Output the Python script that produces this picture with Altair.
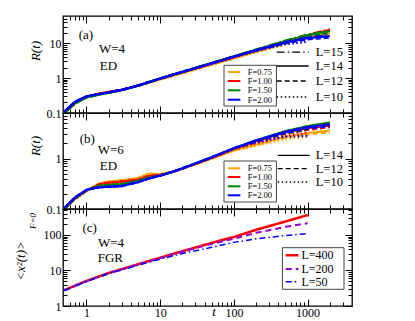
import altair as alt
import pandas as pd

# ---------------- data ----------------
F_LABELS = ["F=0.75", "F=1.00", "F=1.50", "F=2.00"]
F_COLORS = ["#FFA500", "#FF0000", "#008000", "#0000FF"]

T_TAIL = [200, 500, 1000, 2000]

# panel (a)  W=4, ED
L_A = ["L=15", "L=14", "L=12", "L=10"]
T_A = [0.5, 0.7, 1, 1.5, 2, 3, 5, 7, 10, 20, 50, 100]
A_075 = [0.10, 0.19, 0.29, 0.36, 0.40, 0.46, 0.60, 0.74, 0.92, 1.40, 2.45, 3.7]
A_100 = [0.10, 0.19, 0.29, 0.36, 0.40, 0.46, 0.61, 0.76, 0.96, 1.48, 2.60, 4.0]
A_150 = [0.10, 0.19, 0.28, 0.34, 0.38, 0.45, 0.61, 0.77, 0.98, 1.52, 2.70, 4.2]
A_200 = [0.11, 0.21, 0.30, 0.35, 0.39, 0.46, 0.61, 0.76, 0.97, 1.50, 2.65, 4.1]
A_075_TAILS = [[5.8, 10.3, 15.0, 20.0], [5.7, 10.0, 14.5, 19.0], [5.6, 9.6, 13.5, 17.5], [5.5, 9.2, 12.5]]
A_100_TAILS = [[6.3, 11.5, 17.5, 25.0], [6.2, 11.2, 17.0, 24.0], [6.1, 10.8, 15.5, 21.0], [6.0, 10.2, 14.0]]
A_150_TAILS = [[6.6, 11.8, 17.5, 23.0], [6.5, 11.5, 17.0, 22.0], [6.4, 11.0, 15.5, 20.0], [6.2, 10.4, 14.0]]
A_200_TAILS = [[6.4, 10.8, 14.5, 17.0], [6.3, 10.5, 14.0, 16.0], [6.2, 10.0, 12.8, 14.5], [6.0, 9.3, 11.0]]

# panel (b)  W=6, ED
L_B = ["L=14", "L=12", "L=10"]
T_B = [0.5, 0.7, 1, 1.5, 2, 3, 5, 7, 10, 15, 20, 50, 100]
B_075 = [0.10, 0.16, 0.23, 0.32, 0.35, 0.37, 0.41, 0.50, 0.49, 0.55, 0.63, 1.00, 1.45]
B_100 = [0.10, 0.16, 0.23, 0.31, 0.33, 0.35, 0.38, 0.45, 0.47, 0.55, 0.63, 1.03, 1.55]
B_150 = [0.10, 0.165, 0.235, 0.29, 0.30, 0.31, 0.36, 0.42, 0.46, 0.55, 0.64, 1.06, 1.60]
B_200 = [0.105, 0.17, 0.24, 0.27, 0.275, 0.285, 0.34, 0.40, 0.46, 0.55, 0.64, 1.06, 1.60]
B_075_TAILS = [[1.9, 2.7, 3.2, 3.6], [1.85, 2.6, 3.0, 3.3], [1.8, 2.4, 2.7]]
B_100_TAILS = [[2.2, 3.3, 4.0, 4.5], [2.1, 3.1, 3.7, 4.2], [2.0, 2.8, 3.2]]
B_150_TAILS = [[2.3, 3.5, 4.4, 5.2], [2.2, 3.3, 4.1, 4.8], [2.2, 3.1, 3.7]]
B_200_TAILS = [[2.3, 3.4, 4.2, 4.8], [2.2, 3.2, 3.9, 4.4], [2.1, 2.7, 2.8]]

# panel (c)  W=4, FGR
L_C = ["L=400", "L=200", "L=50"]
C_COLORS = ["#FF0000", "#9400D3", "#0000FF"]
T_C = [0.5, 1, 2, 5, 10, 20, 50, 100, 200, 500, 1000]
C_400 = [2.8, 5.1, 8.5, 15.0, 23.0, 35.0, 60.0, 88.0, 140.0, 240.0, 365.0]
C_200 = [2.8, 5.0, 8.4, 14.8, 22.5, 34.0, 56.0, 79.0, 115.0, 170.0, 214.0]
C_50 = [2.7, 4.9, 8.2, 14.0, 21.0, 30.0, 45.0, 62.0, 78.0, 97.0, 109.0]

X_MAJOR = [1, 10, 100, 1000]
X_MINOR = [0.6, 0.7, 0.8, 0.9, 2, 3, 4, 5, 6, 7, 8, 9, 20, 30, 40, 50, 60, 70, 80, 90,
           200, 300, 400, 500, 600, 700, 800, 900, 2000, 3000]

# ---------------- styling ----------------
FONT = "Liberation Serif"
XDOM = [0.48, 4000]
W = 289
DASH = {"L=15": [8, 3, 1.5, 3], "L=14": [1, 0], "L=12": [5, 3], "L=10": [1.5, 2.5],
        "L=400": [1, 0], "L=200": [6, 4], "L=50": [6, 3, 1.5, 3]}


def build_df(T, cores, tails, Ls):
    rows = []
    for f, core, tset in zip(F_LABELS, cores, tails):
        for L, tail in zip(Ls, tset):
            ts = T + T_TAIL[:len(tail)]
            vs = core + tail
            for t, v in zip(ts, vs):
                rows.append({"t": t, "R": v, "F": f, "L": L, "key": f + L})
    return pd.DataFrame(rows)


def label_axis(orient, values, show=True):
    return alt.Axis(orient=orient, values=values, format="~g", ticks=False, domain=False,
                    grid=False, labels=show, labelFont=FONT, labelFontSize=12,
                    labelColor="black", labelPadding=2 if orient == "left" else 1,
                    labelFlush=False, labelOverlap=False, title=None, minExtent=0)


def tick_axis(orient, values, size):
    return alt.Axis(orient=orient, values=values, labels=False, domain=False, grid=False,
                    ticks=True, tickSize=size, offset=-size, tickColor="black",
                    tickWidth=1, title=None, minExtent=0, maxExtent=0)


def axis_layers(df, xs, ys, ymaj, ymin):
    out = []
    for ox, oy, xv, yv, s in [("bottom", "left", X_MAJOR, ymaj, 7),
                              ("bottom", "left", X_MINOR, ymin, 4),
                              ("top", "right", X_MAJOR, ymaj, 7),
                              ("top", "right", X_MINOR, ymin, 4)]:
        out.append(alt.Chart(df).mark_point(opacity=0, size=1).encode(
            x=alt.X("t:Q", scale=xs, axis=tick_axis(ox, xv, s)),
            y=alt.Y("R:Q", scale=ys, axis=tick_axis(oy, yv, s))))
    return out


def texts(items, size=13, style="normal", angle=0, align="left"):
    out = []
    for txt, x, y in items:
        out.append(alt.Chart(pd.DataFrame({"s": [txt]})).mark_text(
            font=FONT, fontSize=size, fontStyle=style, angle=angle, align=align,
            baseline="middle", color="black").encode(
            x=alt.value(x), y=alt.value(y), text="s:N"))
    return out


def f_legend(cscale, x1, x2, y1, y2, rows_y, lx1, lx2, tx):
    box = alt.Chart(pd.DataFrame({"a": [0]})).mark_rect(
        fill="white", stroke="#444444", strokeWidth=1).encode(
        x=alt.value(x1), x2=alt.value(x2), y=alt.value(y1), y2=alt.value(y2))
    d = pd.DataFrame({"F": F_LABELS, "py": rows_y})
    rule = alt.Chart(d).mark_rule(strokeWidth=2).encode(
        x=alt.value(lx1), x2=alt.value(lx2), y=alt.Y("py:Q", scale=None, axis=None),
        color=alt.Color("F:N", scale=cscale, legend=None))
    txt = alt.Chart(d).mark_text(font=FONT, fontSize=8.5, align="left", baseline="middle",
                                 color="black").encode(
        x=alt.value(tx), y=alt.Y("py:Q", scale=None, axis=None), text="F:N")
    return [box, rule, txt]


def l_legend(Ls, dscale, rows_y, lx1, lx2, tx):
    d = pd.DataFrame({"L": Ls, "py": rows_y})
    rule = alt.Chart(d).mark_rule(strokeWidth=1.3, color="black").encode(
        x=alt.value(lx1), x2=alt.value(lx2), y=alt.Y("py:Q", scale=None, axis=None),
        strokeDash=alt.StrokeDash("L:N", scale=dscale, legend=None))
    txt = alt.Chart(d).mark_text(font=FONT, fontSize=12.5, align="left", baseline="middle",
                                 color="black").encode(
        x=alt.value(tx), y=alt.Y("py:Q", scale=None, axis=None), text="L:N")
    return [rule, txt]


def ed_panel(df, Ls, ydom, ylab, ymaj, ymin, h, ann, leg_f, leg_l):
    xs = alt.Scale(type="log", domain=XDOM, nice=False)
    ys = alt.Scale(type="log", domain=ydom, nice=False)
    cscale = alt.Scale(domain=F_LABELS, range=F_COLORS)
    dscale = alt.Scale(domain=Ls, range=[DASH[l] for l in Ls])
    lines = alt.Chart(df).mark_line(strokeWidth=2.2, clip=True).encode(
        x=alt.X("t:Q", scale=xs, axis=None),
        y=alt.Y("R:Q", scale=ys, axis=label_axis("left", ylab)),
        color=alt.Color("F:N", scale=cscale, legend=None),
        strokeDash=alt.StrokeDash("L:N", scale=dscale, legend=None),
        detail="key:N")
    layers = [lines] + axis_layers(df, xs, ys, ymaj, ymin)
    layers += f_legend(cscale, *leg_f)
    layers += l_legend(Ls, dscale, *leg_l)
    layers += ann
    return alt.layer(*layers).resolve_axis(x="independent", y="independent").properties(
        width=W, height=h)


df_a = build_df(T_A, [A_075, A_100, A_150, A_200],
                [A_075_TAILS, A_100_TAILS, A_150_TAILS, A_200_TAILS], L_A)
df_b = build_df(T_B, [B_075, B_100, B_150, B_200],
                [B_075_TAILS, B_100_TAILS, B_150_TAILS, B_200_TAILS], L_B)

Y_MIN_A = [0.2, 0.3, 0.4, 0.5, 0.6, 0.7, 0.8, 0.9, 2, 3, 4, 5, 6, 7, 8, 9, 20, 30, 40, 50]
Y_MIN_B = [0.2, 0.3, 0.4, 0.5, 0.6, 0.7, 0.8, 0.9, 2, 3, 4, 5, 6, 7]
Y_MIN_C = [2, 3, 4, 5, 6, 7, 8, 9, 20, 30, 40, 50, 60, 70, 80, 90, 200, 300, 400, 500]

ann_a = texts([("(a)", 15.7, 19), ("W=4", 36, 33.3), ("ED", 36.7, 50)]) + \
    texts([("R(t)", -27.3, 35)], style="italic", angle=270, align="center")
panel_a = ed_panel(df_a, L_A, [0.1, 60], [0.1, 1, 10], [0.1, 1, 10], Y_MIN_A, 97, ann_a,
                   (161, 213.4, 49.3, 90, [56, 65, 74.3, 83.7], 164.7, 177.4, 184.7),
                   ([36.2, 50, 65, 81], 213.7, 245.7, 252.7))

ann_b = texts([("(b)", 16.7, 26.3), ("W=6", 34.7, 37.3), ("ED", 36.7, 53)]) + \
    texts([("R(t)", -27.3, 33)], style="italic", angle=270, align="center")
panel_b = ed_panel(df_b, L_B, [0.1, 8], [0.1, 1], [0.1, 1], Y_MIN_B, 96, ann_b,
                   (161, 213.4, 48, 89, [55.3, 64, 73.3, 82.3], 164.7, 177.4, 184.7),
                   ([42.3, 55.7, 69], 214.7, 246.7, 252.7))

# panel (c)
rows = []
for L, vals in zip(L_C, [C_400, C_200, C_50]):
    for t, v in zip(T_C, vals):
        rows.append({"t": t, "R": v, "L": L})
df_c = pd.DataFrame(rows)
xs_c = alt.Scale(type="log", domain=XDOM, nice=False)
ys_c = alt.Scale(type="log", domain=[1, 540], nice=False)
col_c = alt.Scale(domain=L_C, range=C_COLORS)
dash_c = alt.Scale(domain=L_C, range=[DASH[l] for l in L_C])
wid_c = alt.Scale(domain=L_C, range=[2.5, 1.5, 1.5])
lines_c = alt.Chart(df_c).mark_line(clip=True).encode(
    x=alt.X("t:Q", scale=xs_c, axis=label_axis("bottom", X_MAJOR)),
    y=alt.Y("R:Q", scale=ys_c, axis=label_axis("left", [1, 10, 100])),
    color=alt.Color("L:N", scale=col_c, legend=None),
    strokeDash=alt.StrokeDash("L:N", scale=dash_c, legend=None),
    strokeWidth=alt.StrokeWidth("L:N", scale=wid_c, legend=None))
leg_c_d = pd.DataFrame({"L": L_C, "py": [46.3, 60, 72.7]})
leg_c = [
    alt.Chart(pd.DataFrame({"a": [0]})).mark_rect(fill="white", stroke="#444444", strokeWidth=1)
    .encode(x=alt.value(219.4), x2=alt.value(281), y=alt.value(38.7), y2=alt.value(80.3)),
    alt.Chart(leg_c_d).mark_rule().encode(
        x=alt.value(222.7), x2=alt.value(235.4), y=alt.Y("py:Q", scale=None, axis=None),
        color=alt.Color("L:N", scale=col_c, legend=None),
        strokeDash=alt.StrokeDash("L:N", scale=dash_c, legend=None),
        strokeWidth=alt.StrokeWidth("L:N", scale=wid_c, legend=None)),
    alt.Chart(leg_c_d).mark_text(font=FONT, fontSize=12, align="left", baseline="middle",
                                 color="black").encode(
        x=alt.value(238.4), y=alt.Y("py:Q", scale=None, axis=None), text="L:N"),
]
ann_c = texts([("(c)", 19.4, 19.3), ("W=4", 35, 33.7), ("FGR", 34.7, 48.7)]) + \
    texts([("<x²(t)>", -42, 52)], style="italic", angle=270, align="center") + \
    texts([("F=0", -30.5, 12)], size=9, style="italic", angle=270, align="center") + \
    texts([("t", 151, 103)], style="italic", align="center")
panel_c = alt.layer(lines_c, *axis_layers(df_c, xs_c, ys_c, [1, 10, 100], Y_MIN_C),
                    *leg_c, *ann_c).resolve_axis(x="independent", y="independent").properties(
    width=W, height=97)

chart = alt.vconcat(panel_a, panel_b, panel_c, spacing=0, bounds="flush").resolve_scale(
    color="independent", strokeDash="independent", strokeWidth="independent").configure_view(
    stroke="black", strokeWidth=1.3).properties(
    padding={"left": 6, "top": 6, "right": 5, "bottom": 5}, background="white")

chart.save("out.html", embed_options={"renderer": "svg", "actions": False})
